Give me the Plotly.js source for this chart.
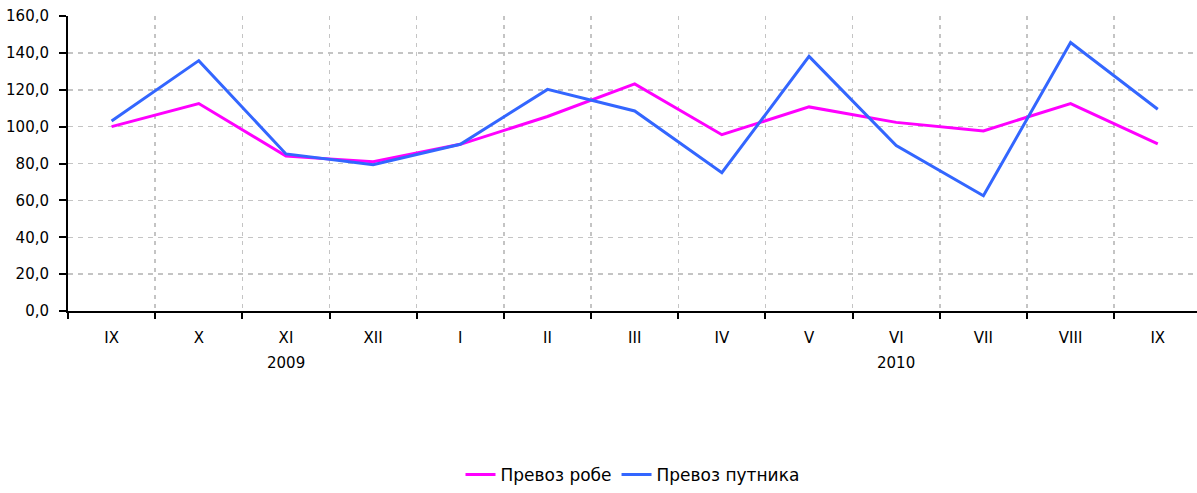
<!DOCTYPE html>
<html>
<head>
<meta charset="utf-8">
<script src="https://cdn.plot.ly/plotly-3.0.1.min.js"></script>
<style>
  html, body { margin: 0; padding: 0; background: #fff; }
  #chart { width: 1197px; height: 493px; }
</style>
</head>
<body>
<div id="chart"></div>
<script>
// Months (Roman numerals), Sept 2009 – Sept 2010
const months = ['IX', 'X', 'XI', 'XII', 'I', 'II', 'III', 'IV', 'V', 'VI', 'VII', 'VIII', 'IX'];
// Year labels and the month under which each is written
const years = ['2009', '2010'];
const yearAnchorIndex = [2, 9];

// Series (index values)
const seriesNames = ['Превоз робе', 'Превоз путника'];
const goods      = [100.0, 112.5, 84.0, 81.0, 90.4, 105.5, 123.2, 95.6, 110.7, 102.3, 97.7, 112.5, 90.6];
const passengers = [103.1, 135.8, 85.2, 79.3, 90.4, 120.2, 108.5, 75.0, 138.1, 89.7, 62.5, 145.6, 109.4];
const yTicks = [0, 20, 40, 60, 80, 100, 120, 140, 160];

const idx = months.map((_, i) => i);
const boundaries = months.map((_, i) => i - 0.5).concat([months.length - 0.5]);

const traces = [
  { x: idx, y: goods, name: seriesNames[0], type: 'scatter', mode: 'lines',
    line: { color: '#FF00FF', width: 3 } },
  { x: idx, y: passengers, name: seriesNames[1], type: 'scatter', mode: 'lines',
    line: { color: '#3366FF', width: 3 } }
];

const fontFam = 'DejaVu Sans, Verdana, sans-serif';

const layout = {
  width: 1197, height: 493,
  margin: { l: 68, r: 0, t: 16, b: 180 },
  paper_bgcolor: '#ffffff', plot_bgcolor: '#ffffff',
  separators: ', ',
  showlegend: true,
  legend: {
    orientation: 'h', x: 0.5, xanchor: 'center', y: -0.558, yanchor: 'middle',
    font: { family: 'DejaVu Sans, sans-serif', size: 17, color: '#000' },
    tracegroupgap: 0
  },
  xaxis: {
    range: [-0.5, 12.45],
    tickmode: 'array', tickvals: idx, ticktext: months,
    ticks: '', showgrid: false, zeroline: false,
    showline: true, linecolor: '#000', linewidth: 2,
    tickfont: { family: fontFam, size: 15, color: '#000' },
    ticklabelstandoff: 12,
    minor: { tickmode: 'array', tickvals: boundaries, ticks: 'outside', ticklen: 6,
             tickcolor: '#000', tickwidth: 2, showgrid: true, gridcolor: '#c4c4c4',
             griddash: '4px,5px', gridwidth: 1.5 }
  },
  yaxis: {
    range: [0, 160], tickmode: 'array', tickvals: yTicks, tickformat: '.1f',
    ticks: 'outside', ticklen: 7, tickwidth: 2, tickcolor: '#000',
    showline: true, linecolor: '#000', linewidth: 2,
    showgrid: true, gridcolor: '#c4c4c4', griddash: '5px,5px', gridwidth: 1.5,
    zeroline: false,
    ticklabelstandoff: 7,
    tickfont: { family: fontFam, size: 15, color: '#000' }
  },
  annotations: years.map((yr, k) => ({
    x: yearAnchorIndex[k], xref: 'x', y: 0, yref: 'paper',
    yanchor: 'top', yshift: -41, text: yr, showarrow: false,
    font: { family: fontFam, size: 15, color: '#000' }
  }))
};

Plotly.newPlot('chart', traces, layout, { displayModeBar: false, staticPlot: true });
</script>
</body>
</html>
